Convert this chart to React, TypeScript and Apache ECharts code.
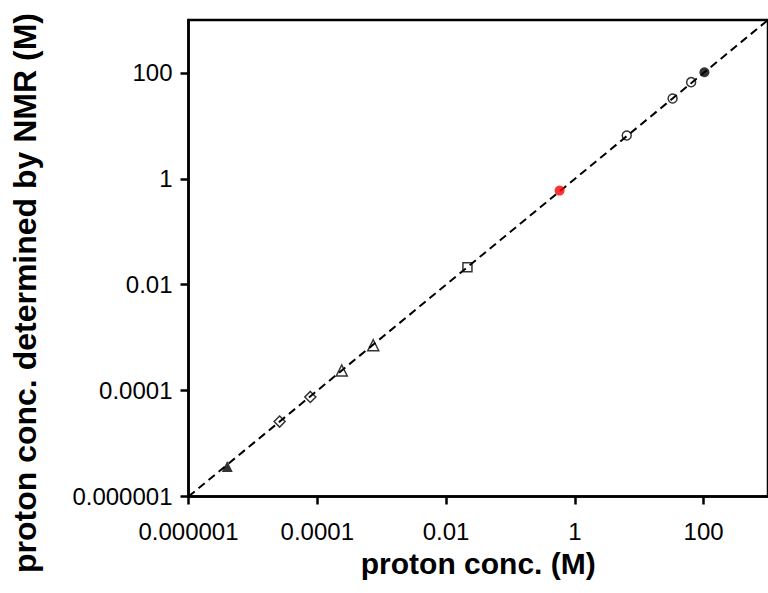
import React, { useEffect, useRef } from "react";
import * as echarts from "echarts";

const tickValues = [1e-6, 1e-4, 1e-2, 1, 100];
const tickLabels = ["0.000001", "0.0001", "0.01", "1", "100"];

const filledTriangle = [[4.0e-6, 3.7e-6]];
const hollowDiamonds = [[2.6e-5, 2.6e-5], [7.8e-5, 7.6e-5]];
const hollowTriangles = [[2.4e-4, 2.4e-4], [7.4e-4, 7.2e-4]];
const hollowSquare = [[0.0215, 0.0213]];
const redCircle = [[0.58, 0.6]];
const hollowCircles = [[6.4, 6.6], [33, 33], [64, 67]];
const blackCircle = [[103, 103]];
const identityLine = [[1e-6, 1e-6], [1000, 1000]];

const xTitle = "proton conc. (M)";
const yTitle = "proton conc. determined by NMR (M)";

const FONT = "Liberation Sans, Arial, sans-serif";

function fmt(v: number): string {
  for (let i = 0; i < tickValues.length; i++) {
    if (Math.abs(Math.log10(v) - Math.log10(tickValues[i])) < 1e-6) return tickLabels[i];
  }
  return "";
}

export default function App() {
  const ref = useRef<HTMLDivElement>(null);
  useEffect(() => {
    if (!ref.current) return;
    const chart = echarts.init(ref.current, null, { renderer: "svg" });
    const hollow = { color: "rgba(0,0,0,0)", borderColor: "#000", borderWidth: 1.5 };
    const axisCommon = (margin: number) => ({
      type: "log",
      logBase: 10,
      min: 1e-6,
      max: 1000,
      axisLine: { show: true, lineStyle: { color: "#000", width: 2.5 } },
      axisTick: { show: true, length: 8, lineStyle: { color: "#000", width: 2.5 }, customValues: tickValues },
      axisLabel: { fontFamily: FONT, fontSize: 24, color: "#000", margin, formatter: fmt, customValues: tickValues },
      splitLine: { show: false },
      minorTick: { show: false },
    });
    chart.setOption({
      animation: false,
      backgroundColor: "#fff",
      grid: {
        left: 188.5,
        top: 20,
        right: -9.5,
        bottom: 96.5,
        show: true,
        borderColor: "#000",
        borderWidth: 2.5,
        backgroundColor: "transparent",
      },
      xAxis: {
        ...axisCommon(23),
        name: xTitle,
        nameLocation: "middle",
        nameGap: 52,
        nameTextStyle: { fontFamily: FONT, fontWeight: "bold", fontSize: 30, color: "#000" },
      },
      yAxis: axisCommon(16),
      graphic: [
        {
          type: "text",
          x: 25,
          y: 293,
          rotation: Math.PI / 2,
          style: {
            text: yTitle,
            fontFamily: FONT,
            fontWeight: "bold",
            fontSize: 32,
            fill: "#000",
            align: "center",
            verticalAlign: "middle",
          },
        },
      ],
      series: [
        {
          type: "line",
          data: identityLine,
          symbol: "none",
          lineStyle: { color: "#000", width: 2, type: [8, 5] },
          silent: true,
          z: 1,
        },
        { type: "scatter", data: filledTriangle, symbol: "triangle", symbolSize: 11, itemStyle: { color: "#000" }, z: 3 },
        { type: "scatter", data: hollowDiamonds, symbol: "diamond", symbolSize: 11, itemStyle: hollow, z: 3 },
        { type: "scatter", data: hollowTriangles, symbol: "triangle", symbolSize: 11, itemStyle: hollow, z: 3 },
        { type: "scatter", data: hollowSquare, symbol: "rect", symbolSize: 9, itemStyle: hollow, z: 3 },
        { type: "scatter", data: redCircle, symbol: "circle", symbolSize: 10, itemStyle: { color: "#ff0000" }, z: 3 },
        { type: "scatter", data: hollowCircles, symbol: "circle", symbolSize: 9, itemStyle: hollow, z: 3 },
        { type: "scatter", data: blackCircle, symbol: "circle", symbolSize: 10, itemStyle: { color: "#000" }, z: 3 },
      ],
    });
    return () => chart.dispose();
  }, []);
  return (
    <div
      ref={ref}
      style={{ position: "fixed", left: 0, top: 0, width: 768, height: 593, background: "#fff" }}
    />
  );
}
